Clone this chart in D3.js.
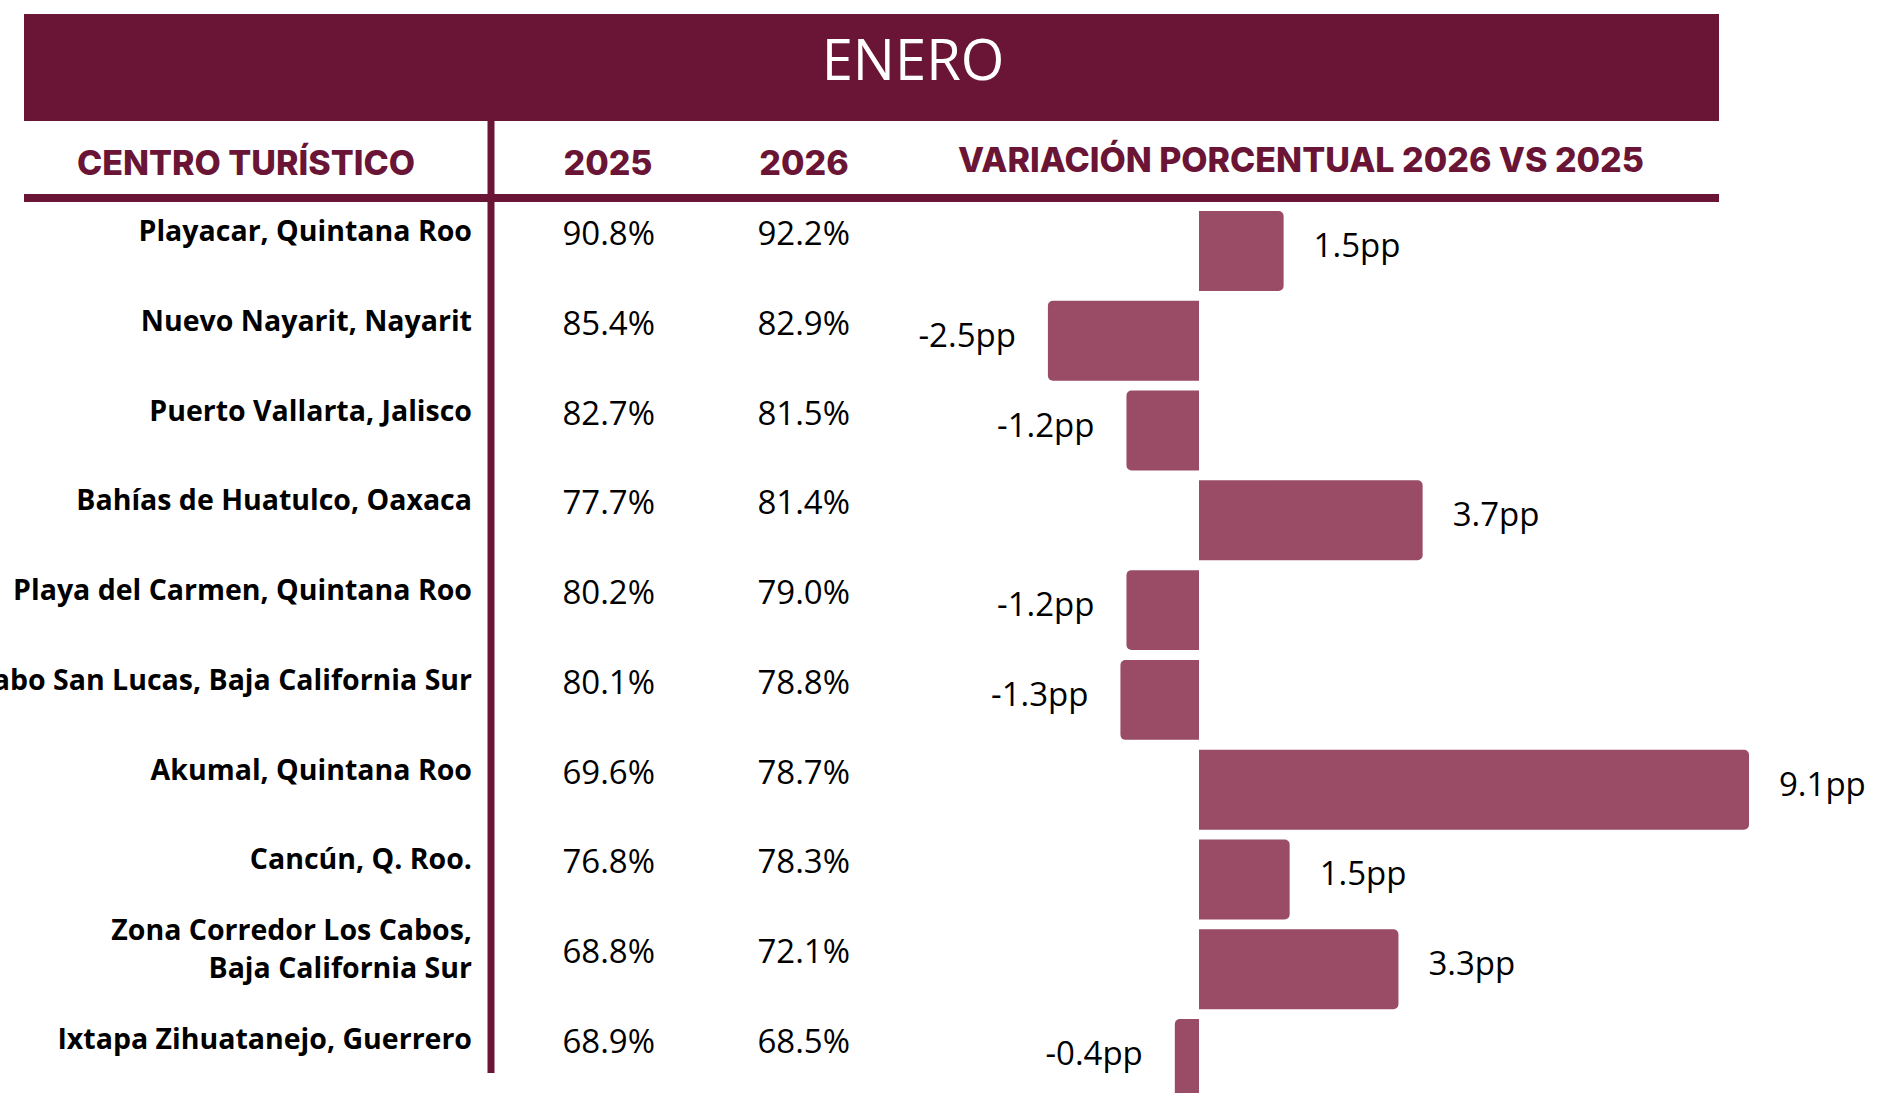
<!DOCTYPE html>
<html>
<head>
<meta charset="utf-8">
<script src="https://cdn.jsdelivr.net/npm/d3@7"></script>
<style>
  body { margin: 0; background: #fff; }
  svg { display: block; }
</style>
</head>
<body>
<script>
(function() {
    const centros = ['Playacar, Quintana Roo', 'Nuevo Nayarit, Nayarit', 'Puerto Vallarta, Jalisco',
                     'Bahías de Huatulco, Oaxaca', 'Playa del Carmen, Quintana Roo',
                     'Cabo San Lucas, Baja California Sur', 'Akumal, Quintana Roo', 'Cancún, Q. Roo.',
                     'Zona Corredor Los Cabos,|Baja California Sur', 'Ixtapa Zihuatanejo, Guerrero'];
    const ocupacion2025 = ['90.8%', '85.4%', '82.7%', '77.7%', '80.2%', '80.1%', '69.6%', '76.8%', '68.8%', '68.9%'];
    const ocupacion2026 = ['92.2%', '82.9%', '81.5%', '81.4%', '79.0%', '78.8%', '78.7%', '78.3%', '72.1%', '68.5%'];
    const variacion = [1.4, -2.5, -1.2, 3.7, -1.2, -1.3, 9.1, 1.5, 3.3, -0.4];
    const etiquetas = ['1.5pp', '-2.5pp', '-1.2pp', '3.7pp', '-1.2pp', '-1.3pp', '9.1pp', '1.5pp', '3.3pp', '-0.4pp'];
    const encabezados = ['CENTRO TURÍSTICO', '2025', '2026', 'VARIACIÓN PORCENTUAL 2026 VS 2025'];
    const titulo = 'ENERO';

    const width = 1882,
          height = 1093,
          guinda = '#6a1535',
          barColor = '#9a4b66';

    let svg = d3.select('body')
                .append('svg')
                .attr('width', width)
                .attr('height', height);

    // cabecera
    svg.append('rect')
       .attr('x', 24).attr('y', 14)
       .attr('width', 1695).attr('height', 107)
       .attr('fill', guinda);

    svg.append('text')
       .attr('x', 913).attr('y', 80)
       .attr('text-anchor', 'middle')
       .attr('font-family', '"Open Sans", sans-serif')
       .attr('font-weight', 500)
       .attr('font-size', 56)
       .attr('fill', '#fff')
       .text(titulo);

    const headerX = [246, 608, 804, 1301],
          headerY = [175, 175, 175, 172];

    svg.selectAll('.encabezado')
       .data(encabezados)
       .enter()
       .append('text')
       .attr('class', 'encabezado')
       .attr('x', (d, i) => headerX[i])
       .attr('y', (d, i) => headerY[i])
       .attr('text-anchor', 'middle')
       .attr('font-family', 'Inter, sans-serif')
       .attr('font-weight', 800)
       .attr('font-size', 34)
       .attr('fill', guinda)
       .text(d => d);

    svg.append('line')
       .attr('x1', 24).attr('x2', 1719)
       .attr('y1', 198).attr('y2', 198)
       .attr('stroke', guinda)
       .attr('stroke-width', 8);

    svg.append('line')
       .attr('x1', 491).attr('x2', 491)
       .attr('y1', 120).attr('y2', 1073)
       .attr('stroke', guinda)
       .attr('stroke-width', 7);

    // escalas
    let y = d3.scaleBand()
              .domain(centros)
              .range([211, 1099])
              .paddingInner(0.11)
              .paddingOuter(0);

    let x = d3.scaleLinear()
              .domain([0, 9.1])
              .range([1199, 1749]);

    let center = d => y(d) + y.bandwidth() / 2;

    // nombres
    let nombres = svg.selectAll('.centro')
                     .data(centros)
                     .enter()
                     .append('text')
                     .attr('class', 'centro')
                     .attr('text-anchor', 'end')
                     .attr('font-family', '"Open Sans", sans-serif')
                     .attr('font-weight', 700)
                     .attr('font-size', 28.5)
                     .attr('fill', '#000');

    nombres.each(function(d) {
        let lines = d.split('|');
        let base = center(d) - 10 - (lines.length - 1) * 19;
        d3.select(this).selectAll('tspan')
          .data(lines)
          .enter()
          .append('tspan')
          .attr('x', 472)
          .attr('y', (l, i) => base + i * 38)
          .text(l => l);
    });

    // valores
    const valueCols = [[ocupacion2025, 655], [ocupacion2026, 850]];
    valueCols.forEach(([values, xr]) => {
        svg.append('g')
           .selectAll('text')
           .data(values)
           .enter()
           .append('text')
           .attr('x', xr)
           .attr('y', (d, i) => center(centros[i]) - 6)
           .attr('text-anchor', 'end')
           .attr('font-family', '"Open Sans", sans-serif')
           .attr('font-size', 33)
           .attr('fill', '#000')
           .text(d => d);
    });

    // barras
    let barPath = function(v, i) {
        let x0 = x(0), x1 = x(v),
            top = y(centros[i]), h = y.bandwidth(),
            dir = v >= 0 ? 1 : -1,
            r = Math.min(5, Math.abs(x1 - x0) / 2);
        let p = d3.path();
        p.moveTo(x0, top);
        p.lineTo(x1 - dir * r, top);
        p.arcTo(x1, top, x1, top + r, r);
        p.lineTo(x1, top + h - r);
        p.arcTo(x1, top + h, x1 - dir * r, top + h, r);
        p.lineTo(x0, top + h);
        p.closePath();
        return p.toString();
    };

    svg.selectAll('.barra')
       .data(variacion)
       .enter()
       .append('path')
       .attr('class', 'barra')
       .attr('d', (d, i) => barPath(d, i))
       .attr('fill', barColor);

    svg.selectAll('.etiqueta')
       .data(variacion)
       .enter()
       .append('text')
       .attr('class', 'etiqueta')
       .attr('x', d => d >= 0 ? x(d) + 30 : x(d) - 32)
       .attr('y', (d, i) => center(centros[i]) + 6)
       .attr('text-anchor', d => d >= 0 ? 'start' : 'end')
       .attr('font-family', '"Open Sans", sans-serif')
       .attr('font-size', 33)
       .attr('fill', '#000')
       .text((d, i) => etiquetas[i]);
})();
</script>
</body>
</html>
